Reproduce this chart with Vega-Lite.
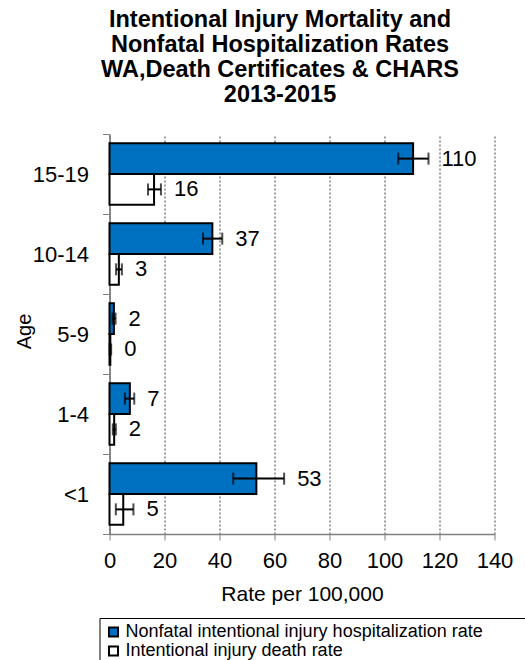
{
  "$schema": "https://vega.github.io/schema/vega-lite/v6.json",
  "width": 385,
  "height": 400,
  "autosize": "none",
  "padding": {"left": 109.5, "top": 134, "right": 30.5, "bottom": 126},
  "title": {
    "text": ["Intentional Injury Mortality and", "Nonfatal Hospitalization Rates", " WA,Death Certificates & CHARS", "2013-2015"],
    "font": "Liberation Sans",
    "fontSize": 23.5,
    "fontWeight": "bold",
    "lineHeight": 25,
    "color": "black",
    "anchor": "middle",
    "dx": -22,
    "offset": 17
  },
  "config": {
    "font": "Liberation Sans",
    "view": {"stroke": null}
  },
  "data": {
    "values": [
      {"age": "15-19", "series": "Nonfatal intentional injury hospitalization rate", "rate": 110.4, "lo": 105, "hi": 116},
      {"age": "15-19", "series": "Intentional injury death rate", "rate": 16.2, "lo": 14, "hi": 18.7},
      {"age": "10-14", "series": "Nonfatal intentional injury hospitalization rate", "rate": 37.4, "lo": 34, "hi": 41},
      {"age": "10-14", "series": "Intentional injury death rate", "rate": 3.4, "lo": 2.4, "hi": 4.5},
      {"age": "5-9", "series": "Nonfatal intentional injury hospitalization rate", "rate": 1.6, "lo": 1.1, "hi": 2.2},
      {"age": "5-9", "series": "Intentional injury death rate", "rate": 0.3, "lo": 0.05, "hi": 0.6},
      {"age": "1-4", "series": "Nonfatal intentional injury hospitalization rate", "rate": 7.4, "lo": 5.6, "hi": 9},
      {"age": "1-4", "series": "Intentional injury death rate", "rate": 1.7, "lo": 1.2, "hi": 2.3},
      {"age": "<1", "series": "Nonfatal intentional injury hospitalization rate", "rate": 53.4, "lo": 45, "hi": 63.5},
      {"age": "<1", "series": "Intentional injury death rate", "rate": 5, "lo": 2.3, "hi": 8.7}
    ]
  },
  "encoding": {
    "y": {
      "field": "age",
      "type": "nominal",
      "sort": ["15-19", "10-14", "5-9", "1-4", "<1"],
      "scale": {"paddingInner": 0, "paddingOuter": 0},
      "axis": {
        "title": "Age",
        "titleFontSize": 20,
        "titleFontWeight": "normal",
        "titleColor": "black",
        "titleAngle": -90,
        "titleX": -85,
        "titleY": 197,
        "titleAlign": "center",
        "titleBaseline": "middle",
        "labelFontSize": 22,
        "labelColor": "black",
        "labelPadding": 14,
        "tickBand": "extent",
        "tickSize": 7,
        "tickColor": "#808080",
        "domainColor": "#707070",
        "domainWidth": 1.5,
        "grid": false
      }
    },
    "yOffset": {
      "field": "series",
      "type": "nominal",
      "sort": ["Nonfatal intentional injury hospitalization rate", "Intentional injury death rate"],
      "scale": {"paddingOuter": 0.3, "paddingInner": 0}
    }
  },
  "layer": [
    {
      "mark": {"type": "bar", "stroke": "black", "strokeWidth": 2},
      "encoding": {
        "x": {
          "field": "rate",
          "type": "quantitative",
          "scale": {"domain": [0, 140], "nice": false},
          "axis": {
            "title": "Rate per 100,000",
            "titleFontSize": 21,
            "titleFontWeight": "normal",
            "titleColor": "black",
            "titlePadding": 12,
            "values": [0, 20, 40, 60, 80, 100, 120, 140],
            "labelFontSize": 22,
            "labelColor": "black",
            "labelPadding": 10,
            "labelFlush": false,
            "tickSize": 6,
            "tickColor": "#808080",
            "domainColor": "#808080",
            "domainWidth": 1.5,
            "grid": true,
            "gridColor": "#404040",
            "gridDash": [2, 2],
            "gridWidth": 1
          }
        },
        "color": {
          "field": "series",
          "type": "nominal",
          "scale": {
            "domain": ["Nonfatal intentional injury hospitalization rate", "Intentional injury death rate"],
            "range": ["#0070C0", "#FFFFFF"]
          },
          "legend": {
            "title": null,
            "orient": "none",
            "legendX": -10,
            "legendY": 484,
            "direction": "vertical",
            "padding": 5,
            "strokeColor": "black",
            "fillColor": "white",
            "symbolType": "square",
            "symbolSize": 81,
            "symbolStrokeColor": "black",
            "symbolStrokeWidth": 2,
            "symbolOpacity": 1,
            "labelFontSize": 18,
            "labelColor": "black",
            "labelOffset": 3,
            "labelLimit": 700,
            "rowPadding": 1,
            "labelExpr": "datum.label + '\u00a0\u00a0\u00a0\u00a0\u00a0\u00a0\u00a0\u00a0\u2060'"
          }
        }
      }
    },
    {
      "mark": {"type": "rule", "color": "black", "strokeWidth": 2},
      "encoding": {
        "x": {"field": "lo", "type": "quantitative"},
        "x2": {"field": "hi"}
      }
    },
    {
      "mark": {"type": "tick", "color": "black", "size": 12, "thickness": 2},
      "encoding": {
        "x": {"field": "lo", "type": "quantitative"}
      }
    },
    {
      "mark": {"type": "tick", "color": "black", "size": 12, "thickness": 2},
      "encoding": {
        "x": {"field": "hi", "type": "quantitative"}
      }
    },
    {
      "mark": {"type": "text", "align": "left", "baseline": "middle", "dx": 13, "fontSize": 22, "color": "black"},
      "encoding": {
        "x": {"field": "hi", "type": "quantitative"},
        "text": {"field": "rate", "type": "quantitative", "format": ".0f"}
      }
    }
  ]
}
